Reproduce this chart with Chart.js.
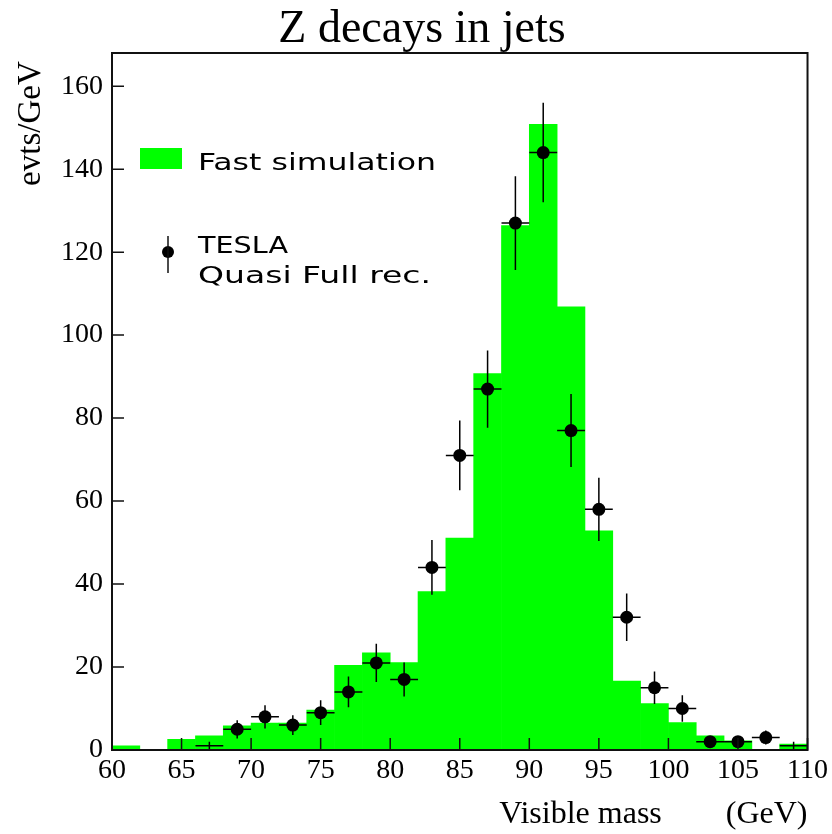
<!DOCTYPE html>
<html>
<head>
<meta charset="utf-8">
<title>Z decays in jets</title>
<script src="https://cdn.jsdelivr.net/npm/chart.js@4.4.1/dist/chart.umd.min.js"></script>
<style>
  html, body { margin: 0; padding: 0; background: #fff; }
  canvas { display: block; }
</style>
</head>
<body>
<canvas id="zChart" width="832" height="834"></canvas>
<script>
// Fast simulation histogram, 2 GeV bins (bin centres)
const binCenters = [61, 63, 65, 67, 69, 71, 73, 75, 77, 79, 81, 83, 85, 87, 89, 91, 93, 95, 97, 99, 101, 103, 105, 107, 109];
const fastSim = [1, 0, 2.6, 3.4, 5.8, 6.5, 6.5, 9.6, 20.4, 23.4, 21.1, 38.2, 51.1, 90.7, 126.4, 150.8, 106.8, 52.8, 16.6, 11.2, 6.6, 3.4, 2.2, 0, 1.4];
const binWidth = 2;

// TESLA quasi full reconstruction points
const teslaMass = [67, 69, 71, 73, 75, 77, 79, 81, 83, 85, 87, 89, 91, 93, 95, 97, 99, 101, 103, 105, 107, 109];
const teslaEvts = [1, 5, 8, 6, 9, 14, 21, 17, 44, 71, 87, 127, 144, 77, 58, 32, 15, 10, 2, 2, 3, 1];
const teslaErr = [1, 2.2, 2.8, 2.4, 3, 3.7, 4.6, 4.1, 6.6, 8.4, 9.3, 11.3, 12, 8.8, 7.6, 5.7, 3.9, 3.2, 1.4, 1.4, 1.7, 1];

// axis ticks
const xTickValues = [60, 65, 70, 75, 80, 85, 90, 95, 100, 105, 110];
const yTickValues = [0, 20, 40, 60, 80, 100, 120, 140, 160];

const serif = '"Liberation Serif", "Times New Roman", serif';
const GREEN = '#00ff00';

// draw a string stretched to a given width (legend uses a wide font)
function fitText(ctx, text, x, baseline, width, size) {
    ctx.font = size + 'px "DejaVu Sans", sans-serif';
    const w = ctx.measureText(text).width;
    ctx.save();
    ctx.translate(x, baseline);
    ctx.scale(width / w, 1);
    ctx.fillText(text, 0, 0);
    ctx.restore();
}

// error bars, inner ticks, frame and legend
const histDecor = {
    id: 'histDecor',
    beforeDatasetDraw(chart, args) {
        if (args.index !== 0) return;
        const { ctx, scales: { x, y } } = chart;
        ctx.save();
        ctx.strokeStyle = '#000';
        ctx.lineWidth = 1.5;
        teslaMass.forEach((m, i) => {
            const px = x.getPixelForValue(m);
            const py = y.getPixelForValue(teslaEvts[i]);
            ctx.beginPath();
            ctx.moveTo(x.getPixelForValue(m - binWidth / 2), py);
            ctx.lineTo(x.getPixelForValue(m + binWidth / 2), py);
            ctx.moveTo(px, y.getPixelForValue(Math.max(0, teslaEvts[i] - teslaErr[i])));
            ctx.lineTo(px, y.getPixelForValue(teslaEvts[i] + teslaErr[i]));
            ctx.stroke();
        });
        ctx.restore();
    },
    afterDatasetsDraw(chart) {
        const { ctx, chartArea: a, scales: { x, y } } = chart;
        ctx.save();
        ctx.strokeStyle = '#111';
        ctx.lineWidth = 1.5;

        // ticks pointing into the plot
        ctx.beginPath();
        xTickValues.forEach(v => {
            const px = x.getPixelForValue(v);
            ctx.moveTo(px, a.bottom);
            ctx.lineTo(px, a.bottom - 12);
        });
        yTickValues.forEach(v => {
            const py = y.getPixelForValue(v);
            ctx.moveTo(a.left, py);
            ctx.lineTo(a.left + 12, py);
        });
        ctx.stroke();

        // frame
        ctx.lineWidth = 2;
        ctx.strokeRect(a.left, a.top, a.right - a.left, a.bottom - a.top);

        // legend
        ctx.fillStyle = GREEN;
        ctx.fillRect(140, 148, 42, 21);
        ctx.fillStyle = '#000';
        ctx.beginPath();
        ctx.arc(168, 252, 6, 0, Math.PI * 2);
        ctx.fill();
        ctx.lineWidth = 1.5;
        ctx.beginPath();
        ctx.moveTo(168, 236);
        ctx.lineTo(168, 273);
        ctx.stroke();
        ctx.textBaseline = 'alphabetic';
        fitText(ctx, 'Fast simulation', 198, 170, 238, 23);
        fitText(ctx, 'TESLA', 198, 253, 90, 23);
        fitText(ctx, 'Quasi Full rec.', 198, 283, 233, 23);
        ctx.restore();
    }
};

new Chart(document.getElementById('zChart'), {
    type: 'bar',
    data: {
        datasets: [
            {
                type: 'scatter',
                label: 'TESLA Quasi Full rec.',
                data: teslaMass.map((m, i) => ({ x: m, y: teslaEvts[i] })),
                backgroundColor: '#000',
                borderColor: '#000',
                pointRadius: teslaEvts.map(v => v > 1 ? 6.5 : 0),
                pointBorderWidth: 0,
                order: 0
            },
            {
                type: 'bar',
                label: 'Fast simulation',
                data: binCenters.map((c, i) => ({ x: c, y: fastSim[i] })),
                backgroundColor: GREEN,
                borderWidth: 0,
                barPercentage: 1,
                categoryPercentage: 1,
                grouped: false,
                order: 1
            }
        ]
    },
    options: {
        responsive: false,
        animation: false,
        devicePixelRatio: 1,
        layout: {
            padding: { left: 36, right: 24, top: 0, bottom: 0 }
        },
        plugins: {
            legend: { display: false },
            tooltip: { enabled: false },
            title: {
                display: true,
                text: 'Z decays in jets',
                color: '#000',
                font: { family: serif, size: 46, weight: 'normal', lineHeight: 1 },
                padding: { top: 7, bottom: 0 }
            }
        },
        scales: {
            x: {
                type: 'linear',
                offset: false,
                min: 60,
                max: 110,
                afterBuildTicks: scale => { scale.ticks = xTickValues.map(v => ({ value: v })); },
                afterFit: scale => { scale.height = 84; },
                grid: { display: false, drawTicks: false, offset: false },
                border: { display: false },
                ticks: {
                    color: '#000',
                    padding: 4,
                    maxRotation: 0,
                    font: { family: serif, size: 28 }
                },
                title: {
                    display: true,
                    text: 'Visible mass        (GeV)',
                    align: 'end',
                    color: '#000',
                    font: { family: serif, size: 32 },
                    padding: { top: 0, bottom: 0 }
                }
            },
            y: {
                min: 0,
                max: 168,
                afterBuildTicks: scale => { scale.ticks = yTickValues.map(v => ({ value: v })); },
                afterFit: scale => { scale.width = 76; },
                grid: { display: false, drawTicks: false },
                border: { display: false },
                ticks: {
                    color: '#000',
                    padding: 9,
                    font: { family: serif, size: 28 }
                },
                title: {
                    display: true,
                    text: 'evts/GeV ',
                    align: 'end',
                    color: '#000',
                    font: { family: serif, size: 33 },
                    padding: { top: -24, bottom: 0 }
                }
            }
        }
    },
    plugins: [histDecor]
});
</script>
</body>
</html>
